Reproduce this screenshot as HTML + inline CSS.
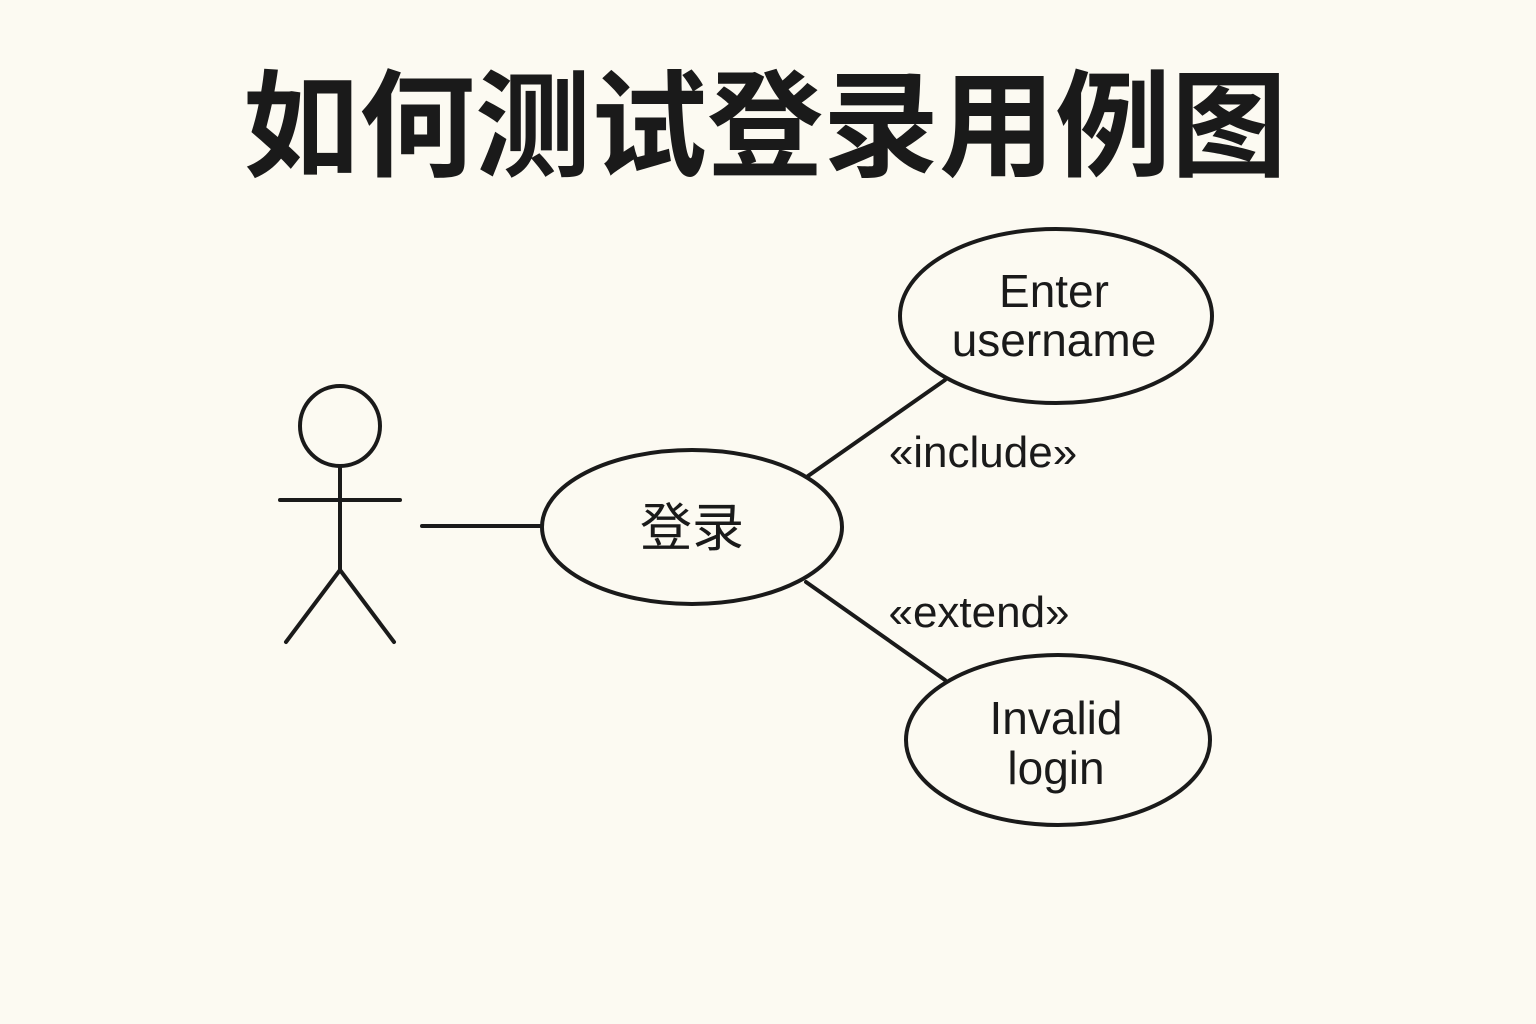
<!DOCTYPE html>
<html><head><meta charset="utf-8"><style>
html,body{margin:0;padding:0;background:#fcfaf2;}
svg{display:block}
</style></head><body>
<svg width="1536" height="1024" viewBox="0 0 1536 1024" xmlns="http://www.w3.org/2000/svg">
<rect width="1536" height="1024" fill="#fcfaf2"/>
<text x="765" y="167" text-anchor="middle" font-family="Noto Sans CJK SC, sans-serif" font-weight="bold" font-size="116" fill="#1a1a1a">如何测试登录用例图</text>
<g stroke="#1a1a1a" stroke-width="4" fill="none" stroke-linecap="round">
<circle cx="340" cy="426" r="40"/>
<line x1="280" y1="500" x2="400" y2="500"/>
<line x1="340" y1="466" x2="340" y2="570"/>
<line x1="340" y1="570" x2="286" y2="642"/>
<line x1="340" y1="570" x2="394" y2="642"/>
<line x1="422" y1="526" x2="542" y2="526"/>
<ellipse cx="692" cy="527" rx="150" ry="77"/>
<ellipse cx="1056" cy="316" rx="156" ry="87"/>
<ellipse cx="1058" cy="740" rx="152" ry="85"/>
<line x1="808" y1="476" x2="945" y2="380"/>
<line x1="806" y1="582" x2="945" y2="680"/>
</g>
<g font-family="Liberation Sans, Noto Sans CJK SC, sans-serif" fill="#1a1a1a" text-anchor="middle">
<text x="692" y="546" font-size="52" font-family="Noto Sans CJK SC, sans-serif">登录</text>
<text x="1054" y="307" font-size="46">Enter</text>
<text x="1054" y="356" font-size="46">username</text>
<text x="1056" y="734" font-size="46">Invalid</text>
<text x="1056" y="784" font-size="46">login</text>
<text x="983" y="467" font-size="44">«include»</text>
<text x="979" y="627" font-size="44">«extend»</text>
</g>
</svg>
</body></html>
